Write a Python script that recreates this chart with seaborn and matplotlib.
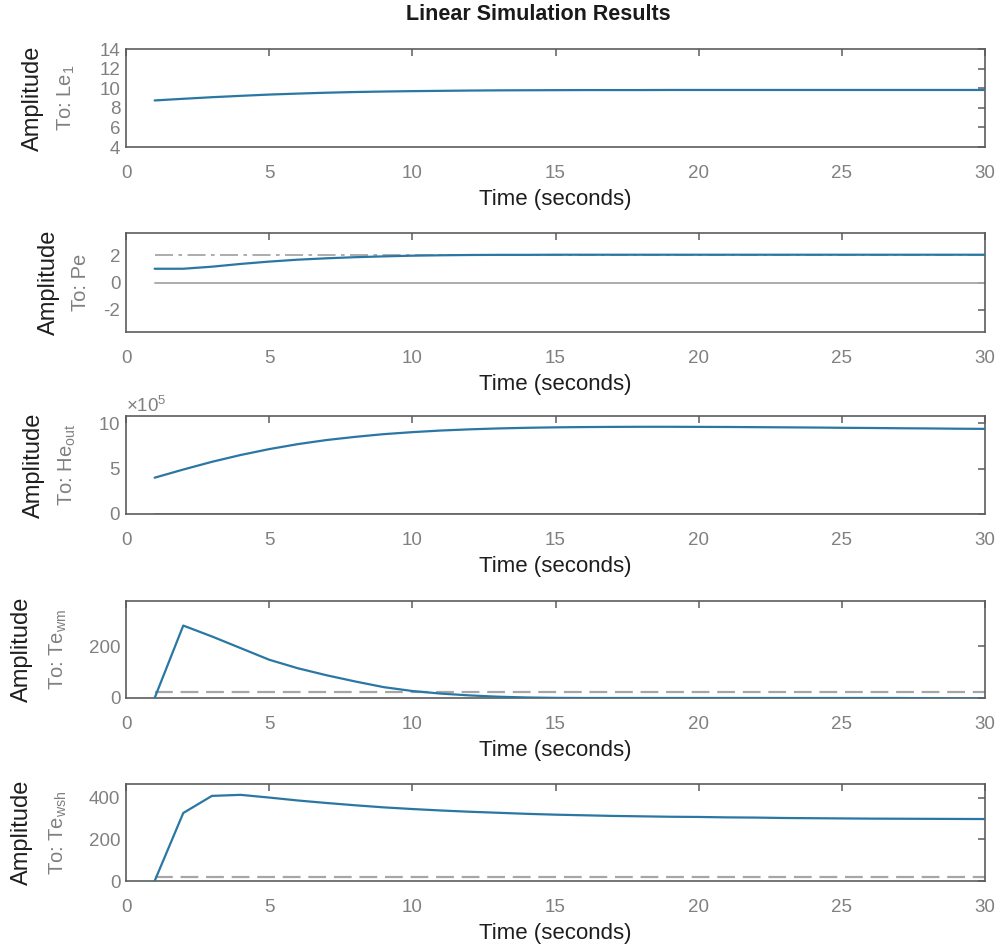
import numpy as np
import pandas as pd
import matplotlib
matplotlib.use("Agg")
import matplotlib.pyplot as plt
from matplotlib.ticker import FixedLocator
import seaborn as sns

# Simulation time samples (s)
time = list(range(1, 31))

# Output responses
le1 = [8.75, 8.92, 9.08, 9.22, 9.35, 9.45, 9.54, 9.61, 9.66, 9.70,
       9.73, 9.76, 9.78, 9.79, 9.80, 9.81, 9.81, 9.81, 9.82, 9.82,
       9.82, 9.82, 9.82, 9.82, 9.82, 9.82, 9.82, 9.82, 9.82, 9.82]
pe = [1.00, 1.00, 1.15, 1.35, 1.52, 1.66, 1.76, 1.84, 1.90, 1.95,
      1.98, 2.00, 2.01, 2.01, 2.02, 2.02, 2.02, 2.02, 2.02, 2.02,
      2.02, 2.02, 2.02, 2.02, 2.02, 2.02, 2.02, 2.02, 2.02, 2.02]
he_out = [4.00e5, 4.90e5, 5.75e5, 6.50e5, 7.15e5, 7.70e5, 8.15e5, 8.50e5, 8.80e5, 9.02e5,
          9.20e5, 9.33e5, 9.43e5, 9.50e5, 9.55e5, 9.58e5, 9.60e5, 9.61e5, 9.61e5, 9.60e5,
          9.59e5, 9.57e5, 9.55e5, 9.53e5, 9.50e5, 9.48e5, 9.45e5, 9.43e5, 9.40e5, 9.38e5]
te_wm = [0, 280, 238, 193, 148, 115, 88, 64, 42, 27,
         17, 10, 5, 2, 0.5, 0, 0, 0, 0, 0,
         0, 0, 0, 0, 0, 0, 0, -1, -2, -2]
te_wsh = [0, 326, 408, 413, 400, 386, 374, 363, 353, 345,
          338, 332, 327, 322, 318, 315, 312, 310, 308, 307,
          305, 304, 302, 301, 300, 299, 298.5, 298, 297.5, 297]

# Input signals shown in grey
u_pe_upper = [2.0] * 30
u_zero = [0.0] * 30
u_te_wm = [24.0] * 30
u_te_wsh = [21.0] * 30

channel_labels = ["To: Le$_{\\mathregular{1}}$", "To: Pe", "To: He$_{\\mathregular{out}}$",
                  "To: Te$_{\\mathregular{wm}}$", "To: Te$_{\\mathregular{wsh}}$"]
x_ticks = [0, 5, 10, 15, 20, 25, 30]

sns.set_theme(style="white")
plt.rcParams["font.family"] = ["Liberation Sans", "DejaVu Sans"]
plt.rcParams["mathtext.fontset"] = "custom"
plt.rcParams["mathtext.rm"] = "Liberation Sans"
plt.rcParams["mathtext.it"] = "Liberation Sans:italic"
plt.rcParams["mathtext.bf"] = "Liberation Sans:bold"
plt.rcParams["axes.unicode_minus"] = False

LINE = "#2a77a4"
REF = "#a6a6a6"
SPINE = "#5c5c5c"
TICK = "#808080"

fig = plt.figure(figsize=(10.01, 9.52), dpi=100)

# axes rectangles in figure pixels: (top, bottom)
rows_px = [(49, 147), (233, 332), (416, 514), (601, 698), (784, 881)]
left_px, right_px = 126, 985
W, H = 1001, 952

axes = []
for top, bot in rows_px:
    ax = fig.add_axes([left_px / W, 1 - bot / H, (right_px - left_px) / W, (bot - top) / H])
    axes.append(ax)

outputs = [le1, pe, he_out, te_wm, te_wsh]
df = pd.DataFrame({"time": time})

for ax, y in zip(axes, outputs):
    d = df.assign(y=y)
    sns.lineplot(data=d, x="time", y="y", ax=ax, color=LINE, linewidth=1.6,
                 estimator=None, legend=False, zorder=3)

# grey input traces
sns.lineplot(x=time, y=u_pe_upper, ax=axes[1], color=REF, linewidth=1.3,
             linestyle=(0, (10, 3, 2, 3)), estimator=None, zorder=2)
sns.lineplot(x=time, y=u_zero, ax=axes[1], color=REF, linewidth=1.3, estimator=None, zorder=2)
sns.lineplot(x=time, y=u_zero, ax=axes[2], color=REF, linewidth=1.3, estimator=None, zorder=2)
sns.lineplot(x=time, y=u_te_wm, ax=axes[3], color=REF, linewidth=1.6,
             linestyle=(0, (8, 3.5)), estimator=None, zorder=2)
sns.lineplot(x=time, y=u_te_wsh, ax=axes[4], color=REF, linewidth=1.6,
             linestyle=(0, (8, 3.5)), estimator=None, zorder=2)

ylims = [(4, 14), (-3.6, 3.6), (0, 10.8e5), (0, 375), (0, 465)]
yticks = [[4, 6, 8, 10, 12, 14], [-2, 0, 2], [0, 5e5, 10e5], [0, 200], [0, 200, 400]]
amp_x_px = [33, 49, 34, 22, 22]
to_x_px = [66, 80, 67, 58, 58]

for i, ax in enumerate(axes):
    ax.set_xlim(0, 30)
    ax.set_ylim(*ylims[i])
    ax.xaxis.set_major_locator(FixedLocator(x_ticks))
    ax.yaxis.set_major_locator(FixedLocator(yticks[i]))
    ax.tick_params(axis="both", which="both", direction="in", length=5, width=1.1,
                   color=SPINE, top=True, right=True, labelsize=13.5,
                   labelcolor=TICK)
    ax.tick_params(axis="x", pad=13)
    ax.tick_params(axis="y", pad=4)
    for s in ax.spines.values():
        s.set_visible(True)
        s.set_color(SPINE)
        s.set_linewidth(1.2)
    ax.set_xlabel("Time (seconds)", fontsize=16, color="#1e1e1e", labelpad=5)
    ax.set_ylabel("")
    # two-line vertical label: Amplitude / channel
    ax.text((amp_x_px[i] - left_px) / (right_px - left_px), 0.5, "Amplitude",
            transform=ax.transAxes, rotation=90, ha="center", va="center",
            fontsize=17, color="#1e1e1e")
    ax.text((to_x_px[i] - left_px) / (right_px - left_px), 0.5, channel_labels[i],
            transform=ax.transAxes, rotation=90, ha="center", va="center",
            fontsize=14.5, color=TICK)

axes[2].ticklabel_format(axis="y", style="sci", scilimits=(5, 5), useMathText=True)
axes[2].yaxis.get_offset_text().set_fontsize(13.5)
axes[2].yaxis.get_offset_text().set_color(TICK)

fig.text(538 / W, 1 - 14 / H, "Linear Simulation Results", ha="center", va="center",
         fontsize=15.5, fontweight="bold", color="#1a1a1a")

fig.savefig("out.png", dpi=100, facecolor="white")
